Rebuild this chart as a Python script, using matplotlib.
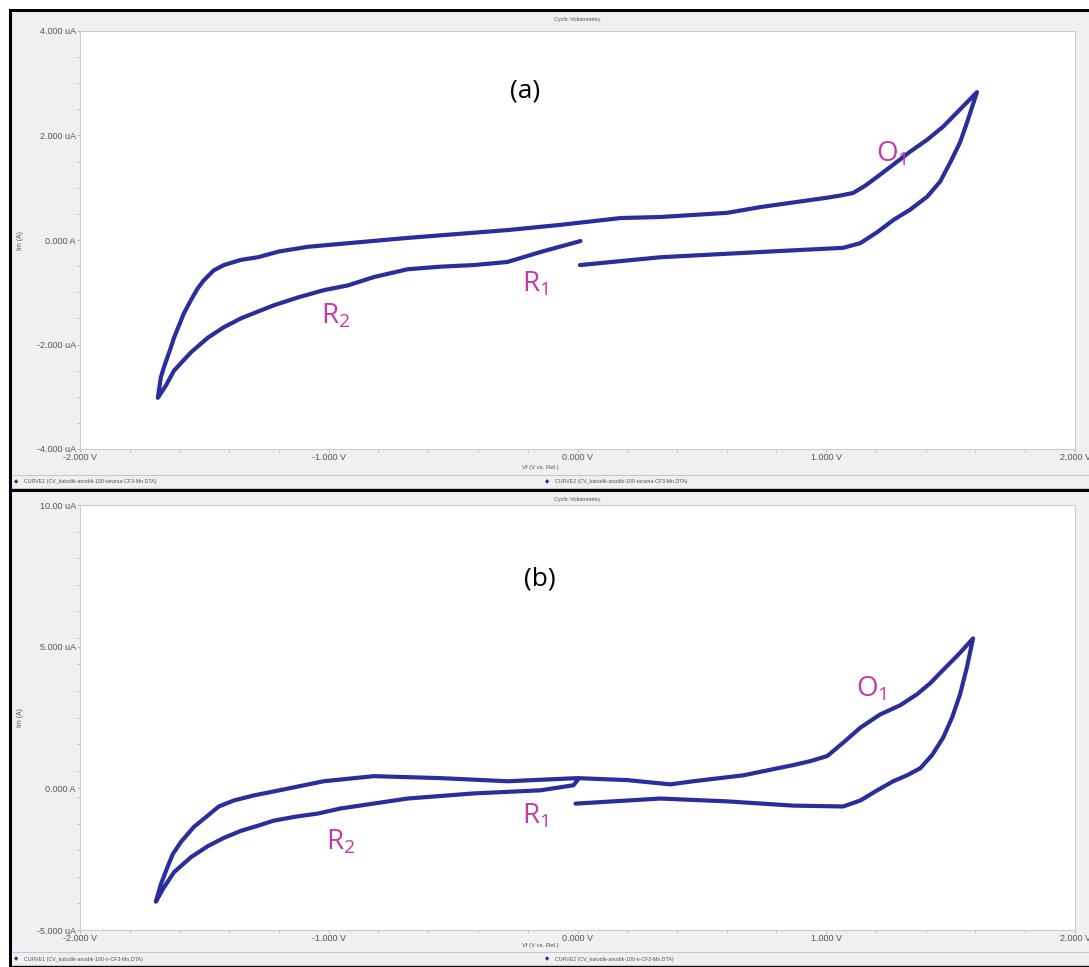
import matplotlib
matplotlib.use("Agg")
import matplotlib.pyplot as plt
from matplotlib.patches import Rectangle
from matplotlib.lines import Line2D
import numpy as np

plt.rcParams["font.family"] = ["Liberation Sans", "DejaVu Sans"]

# ---- data (V, uA) ----
# panel (a): sweep 0 V -> +1.6 V -> -1.7 V -> 0 V
a_volt = [0.01, 0.333, 0.735, 0.90, 1.068, 1.137, 1.205, 1.269, 1.337, 1.406, 1.458, 1.498,
          1.538, 1.566, 1.606,
          1.538, 1.470, 1.406, 1.337, 1.269, 1.205, 1.157, 1.108, 1.056, 1.004, 0.735, 0.602,
          0.333, 0.173, -0.068, -0.281, -0.683, -1.084, -1.200, -1.285, -1.353, -1.422,
          -1.462, -1.502, -1.526, -1.554, -1.582, -1.622, -1.635, -1.663, -1.675, -1.687,
          -1.654, -1.622, -1.554, -1.486, -1.422, -1.353, -1.285, -1.221, -1.124, -1.020,
          -0.924, -0.819, -0.683, -0.550, -0.418, -0.281, -0.149, 0.012]
a_curr = [-0.48, -0.33, -0.23, -0.19, -0.15, -0.06, 0.15, 0.38, 0.58, 0.83, 1.12, 1.48,
          1.87, 2.25, 2.83,
          2.50, 2.17, 1.92, 1.69, 1.44, 1.21, 1.04, 0.90, 0.85, 0.81, 0.63, 0.52,
          0.44, 0.42, 0.29, 0.19, 0.04, -0.13, -0.22, -0.33, -0.38, -0.48,
          -0.58, -0.77, -0.92, -1.15, -1.40, -1.87, -2.06, -2.44, -2.63, -3.02,
          -2.78, -2.50, -2.15, -1.87, -1.67, -1.50, -1.37, -1.25, -1.10, -0.96,
          -0.87, -0.71, -0.56, -0.51, -0.48, -0.42, -0.23, -0.02]

# panel (b)
b_volt = [-0.008, 0.333, 0.602, 0.867, 1.068, 1.137, 1.205, 1.269, 1.325, 1.378, 1.426,
          1.470, 1.506, 1.538, 1.566, 1.590,
          1.530, 1.470, 1.418, 1.365, 1.297, 1.217, 1.137, 1.068, 1.004, 0.936, 0.867,
          0.667, 0.466, 0.373, 0.201, 0.0,
          -0.281, -0.550, -0.819, -1.020, -1.221, -1.301, -1.382, -1.442, -1.486, -1.542,
          -1.594, -1.627, -1.647, -1.675, -1.695,
          -1.663, -1.622, -1.554, -1.486, -1.422, -1.353, -1.285, -1.221, -1.133, -1.044,
          -0.952, -0.683, -0.418, -0.149, -0.016, 0.0]
b_curr = [-0.54, -0.36, -0.46, -0.61, -0.64, -0.43, -0.07, 0.25, 0.46, 0.71, 1.18,
          1.79, 2.50, 3.32, 4.29, 5.29,
          4.71, 4.18, 3.71, 3.32, 2.93, 2.61, 2.14, 1.61, 1.14, 0.96, 0.82,
          0.46, 0.25, 0.14, 0.29, 0.36,
          0.25, 0.36, 0.43, 0.25, -0.11, -0.25, -0.43, -0.64, -0.96, -1.36,
          -1.89, -2.32, -2.75, -3.39, -4.00,
          -3.50, -2.96, -2.43, -2.04, -1.75, -1.50, -1.32, -1.14, -1.00, -0.89,
          -0.71, -0.36, -0.18, -0.07, 0.11, 0.29]

x_ticks = [-2, -1, 0, 1, 2]
x_labels = ["-2.000 V", "-1.000 V", "0.000 V", "1.000 V", "2.000 V"]
a_yticks = [4, 2, 0, -2, -4]
a_ylabels = ["4.000 uA", "2.000 uA", "0.000 A", "-2.000 uA", "-4.000 uA"]
b_yticks = [10, 5, 0, -5]
b_ylabels = ["10.00 uA", "5.000 uA", "0.000 A", "-5.000 uA"]

a_files = ["CURVE1 (CV_katodik-anodik-100-tarama-CF3-Mn.DTA)",
           "CURVE2 (CV_katodik-anodik-100-tarama-CF3-Mn.DTA)"]
b_files = ["CURVE1 (CV_katodik-anodik-100-n-CF3-Mn.DTA)",
           "CURVE2 (CV_katodik-anodik-100-n-CF3-Mn.DTA)"]

W, H = 1089, 967
LINE = "#2a2d9c"
MAG = "#c23aa8"
GREY = "#555555"

fig = plt.figure(figsize=(W / 100, H / 100), dpi=100)
fig.patch.set_facecolor("white")


def fx(px):
    return px / W


def fy(py):
    return 1 - py / H


def panel(top, bot, ax_top, ax_bot, volt, curr, yticks, ylabels, ylim, files,
          tag, tag_xy, labels):
    # grey window frame
    fig.add_artist(Rectangle((fx(10), fy(bot)), 1.0, (bot - top) / H,
                             transform=fig.transFigure, facecolor="#f0f0f0",
                             edgecolor="black", lw=2.2, zorder=0))
    # separator lines around the legend strip
    for yy in (bot - 15, bot - 2):
        fig.add_artist(Line2D([fx(12), 1], [fy(yy), fy(yy)], transform=fig.transFigure,
                              color="#c8c8c8", lw=0.8))
    fig.text(0.53, fy(top + 10), "Cyclic Voltammetry", fontsize=4, color=GREY,
             ha="center", va="center")
    fig.text(fx(540), fy(bot - 22), "Vf (V vs. Ref.)", fontsize=4.2, color=GREY,
             ha="center", va="center")
    fig.text(fx(20), fy((ax_top + ax_bot) / 2), "Im (A)", fontsize=5, color=GREY,
             ha="center", va="center", rotation=90)
    for lx, txt in zip((fx(14), fx(545)), files):
        fig.text(lx, fy(bot - 8), "\u25C6", fontsize=4, color=LINE, va="center",
                 family="DejaVu Sans")
        fig.text(lx + 0.009, fy(bot - 8), txt, fontsize=3.8, color=GREY, va="center")

    ax = fig.add_axes([fx(80), fy(ax_bot), fx(1075) - fx(80), (ax_bot - ax_top) / H])
    ax.set_facecolor("white")
    ax.plot(volt, curr, color=LINE, lw=3.0, solid_joinstyle="round",
            solid_capstyle="round")
    ax.set_xlim(-2, 2)
    ax.set_ylim(*ylim)
    ax.set_xticks(x_ticks)
    ax.set_xticklabels(x_labels)
    ax.set_yticks(yticks)
    ax.set_yticklabels(ylabels)
    ax.set_xticks(np.arange(-2, 2.01, 0.2), minor=True)
    ax.set_yticks(np.arange(ylim[0], ylim[1] + 0.01, (ylim[1] - ylim[0]) / 16), minor=True)
    ax.tick_params(which="both", direction="out", length=2, color="#bbbbbb",
                   labelsize=6.5, labelcolor=GREY, pad=1)
    for s in ax.spines.values():
        s.set_color("#cccccc")
        s.set_linewidth(0.8)

    ax.text(tag_xy[0], tag_xy[1], tag, fontsize=19, color="black", ha="center",
            va="center", family="Open Sans")
    for txt, (vx, vy) in labels:
        ax.text(vx, vy, txt, fontsize=20, color=MAG, ha="center", va="center",
                family="Open Sans")
    return ax


panel(10, 490, 31, 449, a_volt, a_curr, a_yticks, a_ylabels, (-4, 4), a_files,
      "(a)", (-0.21, 2.85),
      [(r"$\mathregular{O_1}$", (1.26, 1.65)),
       (r"$\mathregular{R_1}$", (-0.17, -0.85)),
       (r"$\mathregular{R_2}$", (-0.97, -1.45))])

panel(490, 967, 505, 930, b_volt, b_curr, b_yticks, b_ylabels, (-5, 10), b_files,
      "(b)", (-0.15, 7.4),
      [(r"$\mathregular{O_1}$", (1.18, 3.5)),
       (r"$\mathregular{R_1}$", (-0.17, -1.0)),
       (r"$\mathregular{R_2}$", (-0.95, -1.9))])

fig.savefig("out.png", dpi=100)
